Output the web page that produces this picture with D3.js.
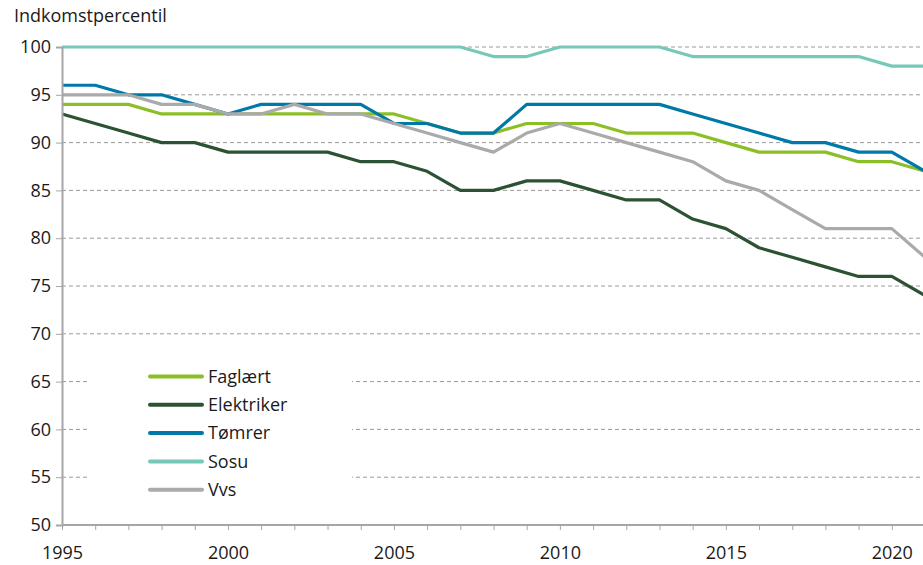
<!DOCTYPE html>
<html>
<head>
<meta charset="utf-8">
<script src="https://cdn.jsdelivr.net/npm/d3@7/dist/d3.min.js"></script>
<style>
	body { margin: 0; background: #fff; }
	svg text { font-family: "Open Sans", "Noto Sans", sans-serif; fill: #1a1a1a; }
</style>
</head>
<body>
<div id="chartDiv"></div>
<script>

// Data

var years      = d3.range(1995, 2022);
var faglaert   = [94, 94, 94, 93, 93, 93, 93, 93, 93, 93, 93, 92, 91, 91, 92, 92, 92, 91, 91, 91, 90, 89, 89, 89, 88, 88, 87];
var elektriker = [93, 92, 91, 90, 90, 89, 89, 89, 89, 88, 88, 87, 85, 85, 86, 86, 85, 84, 84, 82, 81, 79, 78, 77, 76, 76, 74];
var toemrer    = [96, 96, 95, 95, 94, 93, 94, 94, 94, 94, 92, 92, 91, 91, 94, 94, 94, 94, 94, 93, 92, 91, 90, 90, 89, 89, 87];
var sosu       = [100, 100, 100, 100, 100, 100, 100, 100, 100, 100, 100, 100, 100, 99, 99, 100, 100, 100, 100, 99, 99, 99, 99, 99, 99, 98, 98];
var vvs        = [95, 95, 95, 94, 94, 93, 93, 94, 93, 93, 92, 91, 90, 89, 91, 92, 91, 90, 89, 88, 86, 85, 83, 81, 81, 81, 78];

var seriesNames  = ["Faglært", "Elektriker", "Tømrer", "Sosu", "Vvs"];
var seriesColors = ["#8cbf26", "#2c5234", "#0079a8", "#76c8b8", "#aaaaaa"];
var yTicks       = [50, 55, 60, 65, 70, 75, 80, 85, 90, 95, 100];
var xLabelYears  = [1995, 2000, 2005, 2010, 2015, 2020];
var yTitle       = "Indkomstpercentil";

var LineChart = function(width, height) {

	var width  = width;
	var height = height;
	var svg    = null;
	var xScale = null;
	var yScale = null;

	// Plot area:
	var PLOT_LEFT   = 62;
	var PLOT_RIGHT  = 925;   // 2021 falls just past the window edge
	var PLOT_TOP    = 47;
	var PLOT_BOTTOM = 525;
	var AXIS_COLOR  = "#a6a6a6";
	var FONT_SIZE   = "18px";

	/*---------------------------
	| constructor 
	-----------------*/

	var constructor = function() {

		svg = d3.select("#chartDiv").append("svg")
			.attr("width", width)
			.attr("height", height);

		xScale = d3.scaleLinear()
			.domain([1995, 2021])
			.range([PLOT_LEFT, PLOT_RIGHT]);

		yScale = d3.scaleLinear()
			.domain([50, 100])
			.range([PLOT_BOTTOM, PLOT_TOP]);

		drawGrid();
		drawLegendBackground();
		drawLines();
		drawAxes();
		drawLegend();

		return {}
	}

	/*---------------------------
	| drawGrid 
	-----------------*/

	var drawGrid = function() {
		svg.append("g")
			.attr("class", "grid")
		  .selectAll("line")
		  .data(yTicks.filter(function(t) { return t > 50; }))
		  .join("line")
			.attr("x1", PLOT_LEFT)
			.attr("x2", width)
			.attr("y1", function(d) { return yScale(d); })
			.attr("y2", function(d) { return yScale(d); })
			.attr("stroke", "#9a9a9a")
			.attr("stroke-width", 1)
			.attr("stroke-dasharray", "4,3");
	}

	/*---------------------------
	| drawLegendBackground 
	-----------------*/

	var drawLegendBackground = function() {
		// The legend box hides the grid behind it:
		svg.append("rect")
			.attr("x", 88)
			.attr("y", 345)
			.attr("width", 264)
			.attr("height", 170)
			.attr("fill", "#fff");
	}

	/*---------------------------
	| drawLines 
	-----------------*/

	var drawLines = function() {
		var allSeries = [faglaert, elektriker, toemrer, sosu, vvs];

		var line = d3.line()
			.x(function(d, i) { return xScale(years[i]); })
			.y(function(d) { return yScale(d); });

		// Faglært first, so the others sit on top where they overlap:
		for (var i = 0; i < allSeries.length; i++) {
			svg.append("path")
				.datum(allSeries[i])
				.attr("fill", "none")
				.attr("stroke", seriesColors[i])
				.attr("stroke-width", 3.2)
				.attr("stroke-linejoin", "round")
				.attr("d", line);
		}
	}

	/*---------------------------
	| drawAxes 
	-----------------*/

	var drawAxes = function() {

		var yAxis = d3.axisLeft(yScale)
			.tickValues(yTicks)
			.tickSize(6)
			.tickPadding(5);

		var yG = svg.append("g")
			.attr("transform", "translate(" + PLOT_LEFT + ",0)")
			.call(yAxis);
		yG.select(".domain").attr("stroke", AXIS_COLOR).attr("stroke-width", 2);
		yG.selectAll(".tick line").attr("stroke", AXIS_COLOR);
		yG.selectAll(".tick text")
			.style("font-size", FONT_SIZE)
			.attr("fill", "#1a1a1a");

		var xAxis = d3.axisBottom(xScale)
			.tickValues(years)
			.tickSize(5)
			.tickPadding(16)
			.tickFormat(function(d) { return xLabelYears.indexOf(d) >= 0 ? d : ""; });

		var xG = svg.append("g")
			.attr("transform", "translate(0," + PLOT_BOTTOM + ")")
			.call(xAxis);
		xG.select(".domain")
			.attr("stroke", AXIS_COLOR)
			.attr("stroke-width", 2)
			.attr("d", "M" + PLOT_LEFT + ",0H" + width);
		xG.selectAll(".tick line").attr("stroke", AXIS_COLOR);
		xG.selectAll(".tick text")
			.style("font-size", FONT_SIZE)
			.attr("fill", "#1a1a1a");

		svg.append("text")
			.attr("x", 14)
			.attr("y", 22)
			.style("font-size", FONT_SIZE)
			.text(yTitle);
	}

	/*---------------------------
	| drawLegend 
	-----------------*/

	var drawLegend = function() {
		var rows = svg.append("g")
			.attr("class", "legend")
		  .selectAll("g")
		  .data(seriesNames)
		  .join("g")
			.attr("transform", function(d, i) { return "translate(150," + (376.5 + i * 28.3) + ")"; });

		rows.append("line")
			.attr("x1", 0)
			.attr("x2", 52)
			.attr("stroke", function(d, i) { return seriesColors[i]; })
			.attr("stroke-width", 4)
			.attr("stroke-linecap", "round");

		rows.append("text")
			.attr("x", 58)
			.attr("dy", "0.35em")
			.style("font-size", FONT_SIZE)
			.text(function(d) { return d; });
	}

	return constructor(width, height);
}

var chart = LineChart(923, 565);

</script>
</body>
</html>
